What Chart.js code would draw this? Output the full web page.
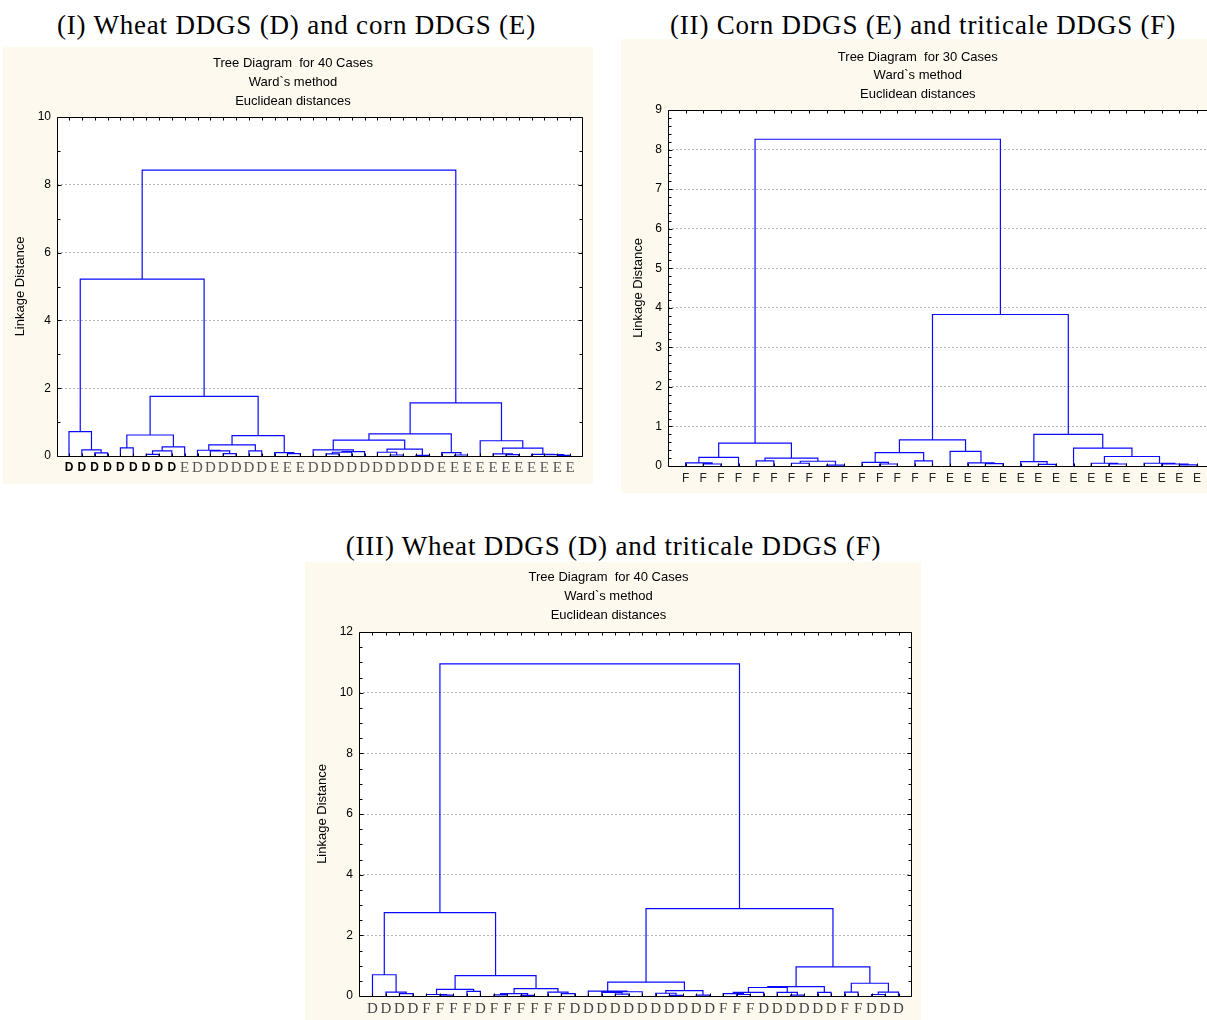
<!DOCTYPE html>
<html>
<head>
<meta charset="utf-8">
<script src="https://cdn.jsdelivr.net/npm/chart.js@4.4.1/dist/chart.umd.min.js"></script>
<style>
html, body { margin: 0; padding: 0; background: #fff; overflow: hidden; width: 1207px; height: 1020px; }
.cap { position: absolute; font-family: "Liberation Serif", "Times New Roman", serif; font-size: 27px; letter-spacing: 0.8px; line-height: 30px; text-align: center; color: #000; white-space: nowrap; }
.panel { position: absolute; background: #fdf9ef; }
</style>
</head>
<body>
<div class="cap" style="left:0px;top:10px;width:593px">(I) Wheat DDGS (D) and corn DDGS (E)</div>
<div class="cap" style="left:621px;top:10px;width:604px">(II) Corn DDGS (E) and triticale DDGS (F)</div>
<div class="cap" style="left:305px;top:531px;width:617px">(III) Wheat DDGS (D) and triticale DDGS (F)</div>

<div class="panel" style="left:3px;top:47px;width:590px;height:437px"><canvas id="c1"></canvas></div>
<div class="panel" style="left:621px;top:39px;width:602px;height:454px"><canvas id="c2"></canvas></div>
<div class="panel" style="left:305px;top:562px;width:616px;height:458px"><canvas id="c3"></canvas></div>

<script>
// leaf labels, left to right
const leavesI = ['D','D','D','D','D','D','D','D','D','E','D','D','D','D','D','D','E','E','E','D',
                 'D','D','D','D','D','D','D','D','D','E','E','E','E','E','E','E','E','E','E','E'];
const leavesII = ['F','F','F','F','F','F','F','F','F','F','F','F','F','F','F',
                  'E','E','E','E','E','E','E','E','E','E','E','E','E','E','E'];
const leavesIII = ['D','D','D','D','F','F','F','F','D','F','F','F','F','F','F','D','D','D','D','D',
                   'D','D','D','D','D','D','F','F','F','D','D','D','D','D','D','F','F','D','D','D'];

// merges: [left, right, linkage distance], numbers = leaf positions
const treeI = [
  [[0, [1, [2, 3, 0.09], 0.18], 0.72],
   [[[4, 5, 0.24], [[[6, 7, 0.05], 8, 0.15], 9, 0.27], 0.62],
    [[[10, [11, [12, 13, 0.07], 0.15], 0.17], [14, 15, 0.15], 0.33], [16, [17, 18, 0.07], 0.1], 0.6],
    1.76],
   5.22],
  [[[[19, [[[20, 21, 0.06], 22, 0.11], 23, 0.13], 0.18],
     [[24, [25, 26, 0.03], 0.11], [27, 28, 0.02], 0.2], 0.47],
    [29, [30, 31, 0.03], 0.1], 0.65],
   [32, [[33, [34, 35, 0.04], 0.06], [36, [37, [38, 39, 0.02], 0.04], 0.05], 0.23], 0.45],
   1.57],
  8.43];

const treeII = [
  [[[0, [1, 2, 0.05], 0.08], 3, 0.22],
   [[4, 5, 0.13], [[6, 7, 0.07], [8, 9, 0.02], 0.12], 0.2],
   0.58],
  [[[[10, [11, 12, 0.05], 0.09], [13, 14, 0.13], 0.34],
    [15, [16, [17, 18, 0.06], 0.08], 0.37], 0.66],
   [[19, [20, 21, 0.04], 0.11],
    [22, [[23, [24, 25, 0.05], 0.07], [26, [27, [28, 29, 0.03], 0.05], 0.07], 0.24], 0.45],
    0.8],
   3.83],
  8.26];

const treeIII = [
  [[0, [1, [2, 3, 0.08], 0.13], 0.7],
   [[[4, [5, 6, 0.03], 0.05], [7, 8, 0.15], 0.22],
    [[[9, 10, 0.04], [11, 12, 0.02], 0.08], [13, [14, 15, 0.08], 0.13], 0.24],
    0.67],
   2.75],
  [[[16, [[17, [18, 19, 0.06], 0.12], 20, 0.14], 0.16],
    [[21, [22, 23, 0.02], 0.09], [24, 25, 0.03], 0.18], 0.46],
   [[[[[26, [27, 28, 0.05], 0.08], 29, 0.12], [30, [31, 32, 0.03], 0.12], 0.28], [33, 34, 0.12], 0.31],
    [[35, 36, 0.13], [[37, 38, 0.05], 39, 0.13], 0.42],
    0.96],
   2.88],
  10.95];

Chart.defaults.font.family = 'Liberation Sans, Arial, sans-serif';

// turn the merge tree into bracket polylines (null y = break)
function dendro(tree) {
  const pts = [];
  (function walk(n) {
    if (typeof n === 'number') return { x: n, y: 0 };
    const a = walk(n[0]), b = walk(n[1]), h = n[2];
    pts.push({ x: a.x, y: a.y }, { x: a.x, y: h }, { x: b.x, y: h }, { x: b.x, y: b.y }, { x: b.x, y: null });
    return { x: (a.x + b.x) / 2, y: h };
  })(tree);
  return pts;
}

// white plot area, black frame, inward ticks
const frameTicks = {
  id: 'frameTicks',
  beforeDraw(chart) {
    const { ctx, chartArea: a } = chart;
    ctx.save();
    ctx.fillStyle = '#fff';
    ctx.fillRect(a.left, a.top, a.width, a.height);
    ctx.restore();
  },
  afterDraw(chart, args, opts) {
    const { ctx, chartArea: a, scales: { x, y } } = chart;
    const L = Math.round(a.left) + 0.5, R = Math.round(a.right) - 0.5;
    const T = Math.round(a.top) + 0.5, B = Math.round(a.bottom) + 0.5;
    ctx.save();
    ctx.strokeStyle = '#000';
    ctx.lineWidth = 1;
    ctx.beginPath();
    ctx.rect(L, T, R - L, B - T);
    const steps = Math.round(y.max / opts.minor);
    const per = Math.round(opts.major / opts.minor);
    for (let k = 0; k <= steps; k++) {
      const py = Math.round(y.getPixelForValue(k * opts.minor)) + 0.5;
      const len = k % per === 0 ? 4 : 3;
      ctx.moveTo(L, py); ctx.lineTo(L + len, py);
      ctx.moveTo(R, py); ctx.lineTo(R - len, py);
    }
    for (let i = 0; i < opts.n; i++) {
      const px = Math.round(x.getPixelForValue(i)) + 0.5;
      ctx.moveTo(px, T); ctx.lineTo(px, T + 3);
      ctx.moveTo(px, B); ctx.lineTo(px, B - 3);
    }
    ctx.stroke();
    ctx.restore();
  }
};

function build(id, p) {
  const yMax = p.yMax;
  return new Chart(document.getElementById(id), {
    type: 'scatter',
    data: {
      datasets: [{
        data: dendro(p.tree),
        showLine: true,
        borderColor: '#0a0aff',
        borderWidth: 1.2,
        pointRadius: 0,
        pointHoverRadius: 0,
        spanGaps: false,
        tension: 0
      }]
    },
    options: {
      responsive: true,
      maintainAspectRatio: false,
      animation: false,
      events: [],
      layout: { padding: { left: 0, right: p.padRight, top: 0, bottom: 0 } },
      plugins: {
        legend: { display: false },
        tooltip: { enabled: false },
        title: {
          display: true,
          text: ['Tree Diagram  for ' + p.leaves.length + ' Cases', 'Ward`s method', 'Euclidean distances'],
          color: '#000',
          font: { size: 13, weight: 'normal', lineHeight: p.titleLH },
          padding: p.titlePad
        },
        frameTicks: { minor: p.minor, major: p.step, n: p.leaves.length }
      },
      scales: {
        x: {
          type: 'linear',
          min: p.xMin,
          max: p.xMax,
          afterFit: s => { s.height = p.xh; },
          afterBuildTicks: s => { s.ticks = p.leaves.map((_, i) => ({ value: i })); },
          grid: { display: false, drawTicks: false },
          border: { display: false },
          ticks: {
            autoSkip: false,
            maxRotation: 0,
            padding: p.xPad,
            callback: v => p.leaves[v],
            font: p.xFont,
            color: p.xColor
          }
        },
        y: {
          min: 0,
          max: yMax,
          afterFit: s => { s.width = p.yw; },
          grid: {
            color: c => (c.tick && c.tick.value > 0 && c.tick.value < yMax) ? '#b4b4b4' : 'rgba(0,0,0,0)',
            drawTicks: false,
            lineWidth: 1
          },
          border: { display: false, dash: [2, 2] },
          ticks: { stepSize: p.step, padding: 6, color: '#000', font: { size: 12 } },
          title: {
            display: true,
            text: 'Linkage Distance',
            color: '#000',
            font: { size: 13 },
            padding: { top: 10, bottom: 0 }
          }
        }
      }
    },
    plugins: [frameTicks]
  });
}

build('c1', {
  leaves: leavesI, tree: treeI,
  xMin: -0.934, xMax: 40, yMax: 10, step: 2, minor: 1,
  padRight: 10, xh: 28, yw: 54, xPad: 4,
  titlePad: { top: 6.5, bottom: 6.5 }, titleLH: '19px',
  xFont: c => c.index < 9
    ? { family: 'Liberation Sans', size: 12, weight: 'bold', lineHeight: '16px' }
    : { family: 'Liberation Serif', size: 15, weight: 'normal', lineHeight: '16px' },
  xColor: c => c.index < 9 ? '#000' : '#555'
});

build('c2', {
  leaves: leavesII, tree: treeII,
  xMin: -1, xMax: 30, yMax: 9, step: 1, minor: 0.2,
  padRight: 8.4, xh: 27, yw: 47, xPad: 5,
  titlePad: { top: 8.75, bottom: 6.75 }, titleLH: '18.5px',
  xFont: { family: 'Liberation Sans', size: 12, lineHeight: '16px' },
  xColor: '#222'
});

build('c3', {
  leaves: leavesIII, tree: treeIII,
  xMin: -1, xMax: 40, yMax: 12, step: 2, minor: 0.5,
  padRight: 9, xh: 24, yw: 54, xPad: 5,
  titlePad: { top: 5.5, bottom: 7.5 }, titleLH: '19px',
  xFont: { family: 'Liberation Serif', size: 15, lineHeight: '16px' },
  xColor: '#444'
});
</script>
</body>
</html>
